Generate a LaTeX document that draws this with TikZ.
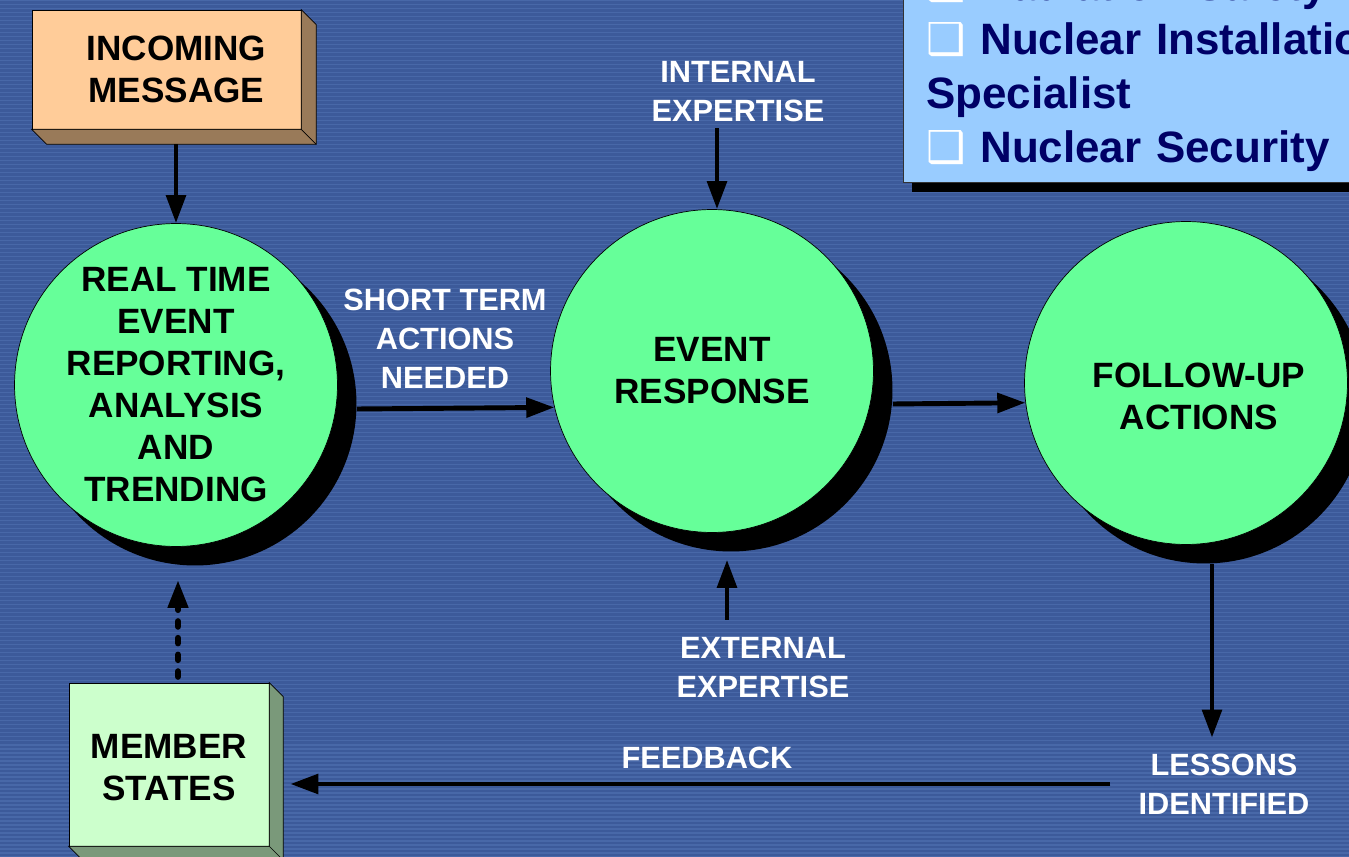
\documentclass[tikz,border=0pt]{standalone}
\usepackage{fontspec}
\setmainfont{Liberation Sans}
\newfontfamily\boxglyph{DejaVu Sans}
\usepackage{tikz}
\usetikzlibrary{arrows.meta,shadows,calc}
\usepackage{xcolor}
\definecolor{slideblue}{RGB}{60,90,154}
\definecolor{slidestripe}{RGB}{72,104,168}
\definecolor{stagegreen}{RGB}{102,255,153}
\definecolor{msgfront}{RGB}{255,204,153}
\definecolor{msgside}{RGB}{153,122,89}
\definecolor{msfront}{RGB}{204,255,204}
\definecolor{msside}{RGB}{122,153,122}
\definecolor{listblue}{RGB}{153,204,255}
\definecolor{listtext}{RGB}{0,0,102}

\begin{document}
\begin{tikzpicture}[x=0.02cm,y=-0.02cm]
\tikzstyle{stage} = [circle, draw=black, fill=stagegreen, minimum size=6.46cm,
inner sep=0pt, align=center, font=\fontsize{20}{23.9}\selectfont\bfseries,
drop shadow={shadow xshift=0.38cm, shadow yshift=-0.38cm, fill=black, opacity=1}]
\tikzstyle{slab} = [rectangle, draw=black, inner sep=0pt, align=center,
font=\fontsize{20}{23.9}\selectfont\bfseries]
\tikzstyle{tag} = [text=white, align=center, inner sep=1pt,
font=\fontsize{17.5}{22.2}\selectfont\bfseries]
\tikzstyle{listbox} = [rectangle, draw=black!80, fill=listblue, text=listtext,
align=left, text width=10cm, inner xsep=0.46cm, inner ysep=6.1pt,
font=\fontsize{25}{30.7}\selectfont\bfseries,
drop shadow={shadow xshift=0.18cm, shadow yshift=-0.18cm, fill=black, opacity=1}]
\tikzstyle{flow} = [draw, line width=2.8pt, -{Triangle[length=16pt,width=11pt]}]

\useasboundingbox (0,0) rectangle (1349,857);
\clip (0,0) rectangle (1349,857);
% background
\fill[slideblue] (0,0) rectangle (1349,857);
\foreach \k in {0,4,...,856}
  \fill[slidestripe] (0,\k) rectangle (1349,\k+1.5);

% list of specialists
\node[listbox, anchor=south west] (expert) at (903,183) {
{\boxglyph\color{white}❑} Radiation Safety\\
{\boxglyph\color{white}❑} Nuclear Installation\\
Specialist\\
{\boxglyph\color{white}❑} Nuclear Security};

% stages
\node[stage] (rte) at (176,385) {REAL TIME\\EVENT\\REPORTING,\\ANALYSIS\\AND\\TRENDING};
\node[stage] (er) at (712,371) {EVENT\\RESPONSE};
\node[stage] (fua) at (1186,383) {\rule{0pt}{1.02cm}\hspace*{0.52cm}FOLLOW-UP\\\hspace*{0.52cm}ACTIONS};

% boxes
\node[slab, fill=msgfront, minimum width=5.38cm, minimum height=2.38cm] (msg) at (166.5,69.5) {\hspace*{0.4cm}INCOMING\\\hspace*{0.4cm}MESSAGE};
\filldraw[msgside, draw=black] (msg.north east) -- ++(15,15) -- ($(msg.south east)+(15,15)$)
  -- ($(msg.south west)+(15,15)$) -- (msg.south west) -- (msg.south east) -- cycle;
\draw (msg.south east) -- ++(15,15);
\node[slab, fill=msfront, minimum width=4cm, minimum height=3.26cm] (ms) at (169,764.5) {\rule{0pt}{0.6cm}MEMBER\\STATES};
\filldraw[msside, draw=black] (ms.north east) -- ++(14,14) -- ($(ms.south east)+(14,14)$)
  -- ($(ms.south west)+(14,14)$) -- (ms.south west) -- (ms.south east) -- cycle;
\draw (ms.south east) -- ++(14,14);

% labels
\node[tag] (intexp) at (738,92) {INTERNAL\\EXPERTISE};
\node[tag] (extexp) at (763,668) {EXTERNAL\\EXPERTISE};
\node[tag] (short) at (445,339) {SHORT TERM\\ACTIONS\\NEEDED};
\node[tag] (lessons) at (1224,784) {LESSONS\\IDENTIFIED};
\node[tag] (feedback) at (707,758) {FEEDBACK};

\coordinate (msgbase) at ($(msg.south)+(0,15)$);
\coordinate (ertop) at ($(er.north)+(5,0)$);
\coordinate (erfoot) at ($(er.south)+(15,27)$);
\coordinate (fuabase) at ($(fua.south)+(26,19)$);
\coordinate (msside) at ($(ms.east)+(21,0)$);

% connectors
\path[flow] (msgbase -| rte.north) -- (rte.north);
\path[flow] ($(rte.east)+(19,24)$) -- (er.193.6);
\path[flow] ($(er.east)+(19,33)$) -- (fua.187.4);
\path[flow] ($(ertop |- intexp.south)+(0,4)$) -- (ertop);
\path[flow] ($(erfoot |- extexp.north)+(0,-16)$) -- (erfoot);
\path[flow] (fuabase) -- ($(fuabase |- lessons.north)+(0,-14)$);
\path[flow] ($(lessons.west)+(-26,0)$) -- (msside |- lessons.west);
\path[flow, line width=3.6pt, dash pattern=on 3pt off 6.5pt, line cap=round] ($(ms.north)+(9,-6)$) -- ($(rte.south)+(2,33)$);

\end{tikzpicture}
\end{document}
